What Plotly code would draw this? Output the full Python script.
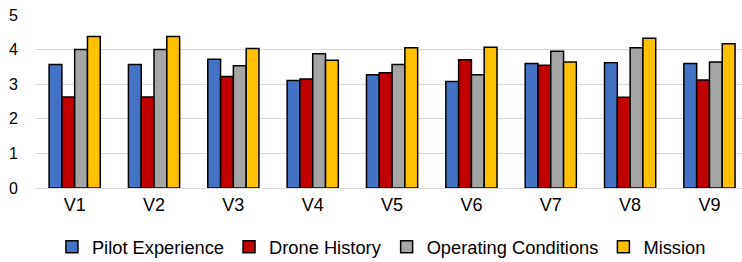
import plotly.graph_objects as go

categories = ["V1", "V2", "V3", "V4", "V5", "V6", "V7", "V8", "V9"]
pilot_experience = [3.57, 3.57, 3.72, 3.11, 3.27, 3.08, 3.60, 3.62, 3.60]
drone_history = [2.63, 2.63, 3.22, 3.15, 3.33, 3.71, 3.55, 2.62, 3.12]
operating_conditions = [4.00, 4.00, 3.53, 3.88, 3.57, 3.27, 3.95, 4.05, 3.64]
mission = [4.38, 4.38, 4.03, 3.69, 4.05, 4.07, 3.64, 4.33, 4.17]
y_ticks = [0, 1, 2, 3, 4, 5]

series = [
    ("Pilot Experience", pilot_experience, "#4472C4"),
    ("Drone History", drone_history, "#C00000"),
    ("Operating Conditions", operating_conditions, "#A5A5A5"),
    ("Mission", mission, "#FFC000"),
]

fig = go.Figure()
for name, vals, color in series:
    fig.add_trace(go.Bar(
        x=categories, y=vals, name=name,
        marker=dict(color=color, line=dict(color="#000000", width=1.5)),
    ))

fig.update_layout(
    width=742, height=262,
    margin=dict(l=35, r=0, t=15, b=74, autoexpand=False),
    paper_bgcolor="white", plot_bgcolor="white",
    barmode="group", bargap=0.355, bargroupgap=0,
    font=dict(family="Liberation Sans, Arial, sans-serif", size=18, color="#000000"),
    showlegend=True,
    legend=dict(orientation="h", x=0.49, xanchor="center", y=-0.34, yanchor="middle",
                font=dict(size=18.3), itemwidth=30, tracegroupgap=0),
    xaxis=dict(range=[-0.5, 8.41], showgrid=False, showline=True, linecolor="#d9d9d9",
               linewidth=1, ticks="", tickfont=dict(size=18)),
    yaxis=dict(range=[0, 5], tickvals=y_ticks, showgrid=True, gridcolor="#d9d9d9",
               gridwidth=1, zeroline=False, showline=False, ticks="",
               tickfont=dict(size=16), ticklabelstandoff=16),
)

fig.write_html("out.html", config={"displayModeBar": False},
               post_script="document.body.style.margin='0px';")
